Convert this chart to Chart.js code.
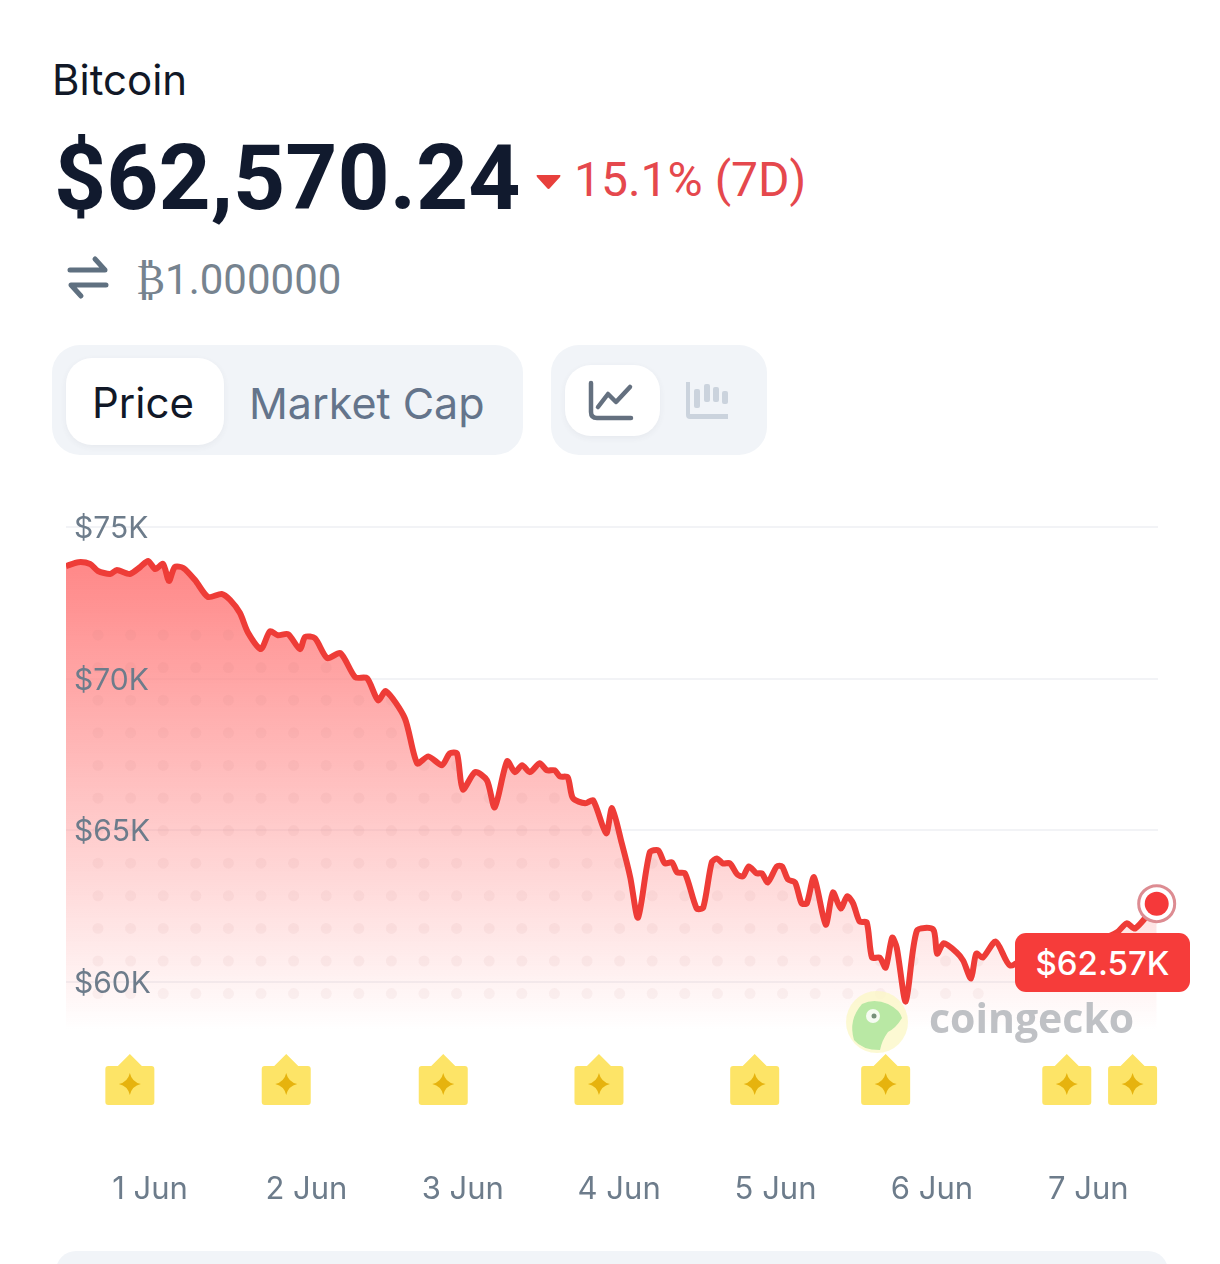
<!DOCTYPE html>
<html>
<head>
<meta charset="utf-8">
<title>Bitcoin</title>
<script src="https://cdn.jsdelivr.net/npm/chart.js@4"></script>
<style>
  html, body { margin: 0; padding: 0; background: #fff; }
  body { position: relative; width: 1220px; height: 1264px; overflow: hidden; font-family: Inter, "Noto Sans", sans-serif; }
  .abs { position: absolute; white-space: nowrap; line-height: 1; }
  #canvasWrap { position: absolute; left: 0; top: 490px; width: 1220px; height: 740px; }
  .box { position: absolute; background: #f1f4f8; border-radius: 28px; }
  .pill { position: absolute; background: #fff; border-radius: 26px; box-shadow: 0 2px 6px rgba(60,70,90,.06); }
</style>
</head>
<body>
<div class="abs" style="left:52px;top:59px;font-size:42px;color:#111827;">Bitcoin</div>
<div class="abs" style="left:54px;top:133px;font-family:Roboto;font-weight:700;font-size:91px;color:#111a2e;">$62,570.24</div>
<svg class="abs" style="left:535px;top:172px" width="28" height="20"><path d="M2 3 H25 Q26 3 25 5 L15 16 Q13.500 18 12 16 L2 5 Q1 3 2 3Z" fill="#e8403c"/></svg>
<div class="abs" style="left:574px;top:156px;font-family:Roboto;font-size:48px;color:#e5484d;">15.1% (7D)</div>
<svg class="abs" style="left:66px;top:254px" width="44" height="48" fill="none" stroke="#5f7080" stroke-width="5" stroke-linecap="round" stroke-linejoin="round"><path d="M4 16 H39 L29 5"/><path d="M40 31 H5 L15 42"/></svg>
<div class="abs" style="left:136px;top:259px;font-family:Roboto;font-size:42px;color:#76838f;">₿1.000000</div>

<div class="box" style="left:52px;top:345px;width:471px;height:110px;"></div>
<div class="pill" style="left:66px;top:358px;width:158px;height:87px;"></div>
<div class="abs" style="left:92px;top:382px;font-size:42px;color:#111827;">Price</div>
<div class="abs" style="left:249px;top:382px;font-size:43px;color:#64748b;">Market Cap</div>
<div class="box" style="left:551px;top:345px;width:216px;height:110px;"></div>
<div class="pill" style="left:565px;top:365px;width:95px;height:71px;"></div>
<svg class="abs" style="left:586px;top:380px" width="50" height="42" fill="none" stroke="#64707f" stroke-width="4.500" stroke-linecap="round" stroke-linejoin="round"><path d="M5 3 V32 Q5 38 11 38 H45"/><path d="M12 27 L22 14 L30 22 L44 7"/></svg>
<svg class="abs" style="left:684px;top:380px" width="46" height="42" fill="#cbd3dd"><path d="M2 2 h4 V34 H44 v5 H6 Q2 39 2 35Z"/><rect x="10" y="9" width="6" height="19" rx="2"/><rect x="20" y="4" width="6" height="18" rx="2"/><rect x="29" y="7" width="6" height="15" rx="2"/><rect x="38" y="11" width="6" height="13" rx="2"/></svg>

<div id="canvasWrap"><canvas id="graficoBitcoin"></canvas></div>

<svg class="abs" style="left:844px;top:990px" width="66" height="66"><circle cx="33" cy="32" r="31" fill="#fbf7c4" opacity=".75"/><path d="M18 14 Q30 8 44 14 Q56 20 58 28 Q52 38 44 42 Q38 50 36 60 Q18 60 10 50 Q4 30 18 14Z" fill="#b9e8a4"/><circle cx="29" cy="26" r="7" fill="#f6fbf2"/><circle cx="30" cy="26" r="2.500" fill="#77907a"/></svg>
<div class="abs" style="left:929px;top:997px;font-family:'Open Sans';font-weight:700;font-size:41px;color:#bfc1c5;">coingecko</div>
<div class="abs" style="left:1015px;top:933px;width:175px;height:59px;background:#f63c3a;border-radius:11px;color:#fff;font-size:33px;font-weight:500;text-align:center;line-height:60px;">$62.57K</div>

<div class="abs" style="left:56px;top:1251px;width:1112px;height:40px;background:#f1f4f8;border-radius:20px;"></div>

<script>
// horas contadas desde el 1 Jun 00:00, precios en miles de USD
var hours = [-12.9,-11.0,-9.2,-8.0,-6.1,-5.1,-3.1,-1.5,-0.3,0.8,2.0,2.9,3.8,5.1,6.9,8.9,11.0,12.3,13.8,15.0,17.0,18.4,19.6,21.2,23.0,23.8,25.3,27.2,29.2,31.5,33.3,35.0,36.2,39.1,41.0,42.7,44.8,46.0,47.1,48.0,49.9,51.7,52.9,54.8,56.0,57.1,58.3,59.8,60.9,62.1,62.9,64.1,64.9,66.8,68.0,70.0,70.9,72.4,73.7,74.9,76.7,78.0,79.0,80.1,80.9,82.1,83.9,84.9,86.2,87.0,87.9,89.0,90.1,91.0,91.9,93.1,93.9,94.8,96.2,97.0,97.9,99.0,100.0,100.8,101.9,103.7,104.8,106.0,107.0,107.9,108.9,110.0,110.8,112.0,112.9,113.9,114.6,116.0,117.7,120.2,120.8,121.8,123.8,124.8,126.0,126.8,127.8,129.8,132.0,135.0,139.6,144.2,148.4,149.9,151.2,154.5];
var prices = [73.71,73.84,73.78,73.55,73.45,73.58,73.45,73.68,73.88,73.61,73.78,73.22,73.68,73.65,73.25,72.69,72.79,72.59,72.16,71.53,70.97,71.56,71.43,71.46,70.97,71.37,71.33,70.67,70.84,70.04,70.01,69.28,69.58,68.69,67.20,67.43,67.14,67.53,67.53,66.34,66.91,66.64,65.75,67.27,66.91,67.14,66.91,67.20,66.97,66.97,66.77,66.74,66.05,65.88,65.98,64.89,65.72,64.56,63.44,62.11,64.26,64.33,63.90,63.93,63.60,63.57,62.41,62.44,63.93,64.06,63.90,63.90,63.54,63.47,63.80,63.57,63.57,63.27,63.80,63.80,63.37,63.27,62.58,62.58,63.44,61.88,62.94,62.41,62.81,62.58,61.98,61.95,60.79,60.79,60.46,61.45,61.12,59.34,61.68,61.72,60.92,61.26,60.96,60.69,60.10,60.92,60.79,61.32,60.53,60.86,60.69,61.19,61.62,61.92,61.75,62.57];
var dayHours = [0,24,48,72,96,120,144];
var dayLabels = ['1 Jun','2 Jun','3 Jun','4 Jun','5 Jun','6 Jun','7 Jun'];
var priceTicks = [60,65,70,75];
var flagHours = [-3.1,20.9,45.0,68.9,92.8,112.9,140.7,150.8];

var lineColor = '#ee3c37';

function puntos(){
  var datos = [];
  for (var i = 0; i < hours.length; i++) {
    datos.push({x: hours[i], y: prices[i]});
  }
  return datos;
}

var ultimo = [{x: hours[hours.length-1], y: prices[prices.length-1]}];

// puntitos de la marca de agua, solo debajo de la linea
var pluginPuntos = {
  id: 'puntos',
  afterDatasetsDraw: function(chart){
    var ctx = chart.ctx;
    var area = chart.chartArea;
    var pts = chart.getDatasetMeta(2).data;
    ctx.save();
    ctx.beginPath();
    ctx.moveTo(pts[0].x, area.bottom);
    pts.forEach(function(p){ ctx.lineTo(p.x, p.y + 4); });
    ctx.lineTo(pts[pts.length-1].x, area.bottom);
    ctx.closePath();
    ctx.clip();
    ctx.fillStyle = 'rgba(190,110,110,0.07)';
    for (var y = 145; y < 510; y += 32.6) {
      for (var x = 98; x < 1000; x += 32.6) {
        ctx.beginPath();
        ctx.arc(x, y, 5.5, 0, Math.PI*2);
        ctx.fill();
      }
    }
    ctx.restore();
  }
};

// banderas amarillas de eventos
var pluginBanderas = {
  id: 'banderas',
  afterDraw: function(chart){
    var ctx = chart.ctx;
    var sx = chart.scales.x;
    flagHours.forEach(function(h){
      var cx = sx.getPixelForValue(h);
      var top = 564, base = 576, bottom = 615, w = 24.5;
      ctx.save();
      ctx.fillStyle = '#fde467';
      ctx.beginPath();
      ctx.moveTo(cx, top);
      ctx.lineTo(cx+12, base);
      ctx.lineTo(cx+w-3, base);
      ctx.quadraticCurveTo(cx+w, base, cx+w, base+3);
      ctx.lineTo(cx+w, bottom-3);
      ctx.quadraticCurveTo(cx+w, bottom, cx+w-3, bottom);
      ctx.lineTo(cx-w+3, bottom);
      ctx.quadraticCurveTo(cx-w, bottom, cx-w, bottom-3);
      ctx.lineTo(cx-w, base+3);
      ctx.quadraticCurveTo(cx-w, base, cx-w+3, base);
      ctx.lineTo(cx-12, base);
      ctx.closePath();
      ctx.fill();
      // estrella
      var sy = 594, r = 11;
      ctx.fillStyle = '#e6b30e';
      ctx.beginPath();
      ctx.moveTo(cx, sy-r);
      ctx.quadraticCurveTo(cx+2, sy-2, cx+r, sy);
      ctx.quadraticCurveTo(cx+2, sy+2, cx, sy+r);
      ctx.quadraticCurveTo(cx-2, sy+2, cx-r, sy);
      ctx.quadraticCurveTo(cx-2, sy-2, cx, sy-r);
      ctx.fill();
      ctx.restore();
    });
  }
};

function fntGraficoBitcoin(){
  var ctx = document.getElementById('graficoBitcoin').getContext('2d');
  new Chart(ctx, {
    type: 'line',
    data: {
      datasets: [
        {
          data: ultimo,
          order: 0,
          clip: false,
          showLine: false,
          pointRadius: 12,
          pointBackgroundColor: '#f5393a',
          pointBorderWidth: 0
        },
        {
          data: ultimo,
          order: 1,
          clip: false,
          showLine: false,
          pointRadius: 18,
          pointBackgroundColor: '#fff',
          pointBorderColor: '#dd8c92',
          pointBorderWidth: 3
        },
        {
          data: puntos(),
          order: 2,
          borderColor: lineColor,
          borderWidth: 6,
          tension: 0.25,
          pointRadius: 0,
          fill: 'start',
          backgroundColor: function(context){
            var area = context.chart.chartArea;
            if (!area) return 'transparent';
            var g = context.chart.ctx.createLinearGradient(0, 70, 0, area.bottom);
            g.addColorStop(0, 'rgba(255,135,135,1)');
            g.addColorStop(1, 'rgba(255,135,135,0)');
            return g;
          }
        }
      ]
    },
    options: {
      responsive: true,
      maintainAspectRatio: false,
      animation: false,
      layout: { padding: { left: 66, right: 62, top: 37, bottom: 0 } },
      plugins: { legend: { display: false }, tooltip: { enabled: false } },
      scales: {
        x: {
          type: 'linear',
          min: -12.9,
          max: 154.7,
          afterBuildTicks: function(scale){
            scale.ticks = dayHours.map(function(v){ return {value: v}; });
          },
          afterFit: function(scale){
            scale.height = 200;
            scale.paddingLeft = 0;
            scale.paddingRight = 0;
          },
          grid: { display: false },
          border: { display: false },
          ticks: {
            autoSkip: false,
            maxRotation: 0,
            padding: 133,
            color: '#6d7c8b',
            font: { family: 'Inter', size: 31 },
            callback: function(value){ return dayLabels[dayHours.indexOf(value)]; }
          }
        },
        y: {
          min: 58.4,
          max: 75,
          afterBuildTicks: function(scale){
            scale.ticks = priceTicks.map(function(v){ return {value: v}; });
          },
          afterFit: function(scale){
            scale.width = 0;
            scale.paddingTop = 0;
            scale.paddingBottom = 0;
          },
          grid: { color: '#f2f3f6', lineWidth: 2, drawTicks: false },
          border: { display: false },
          ticks: {
            mirror: true,
            padding: 8,
            labelOffset: 2,
            z: 1,
            color: '#6d7c8b',
            font: { family: 'Inter', size: 30 },
            callback: function(value){ return '$' + value + 'K'; }
          }
        }
      }
    },
    plugins: [pluginPuntos, pluginBanderas]
  });
}

document.addEventListener('DOMContentLoaded', function(){
  fntGraficoBitcoin();
});
</script>
</body>
</html>
